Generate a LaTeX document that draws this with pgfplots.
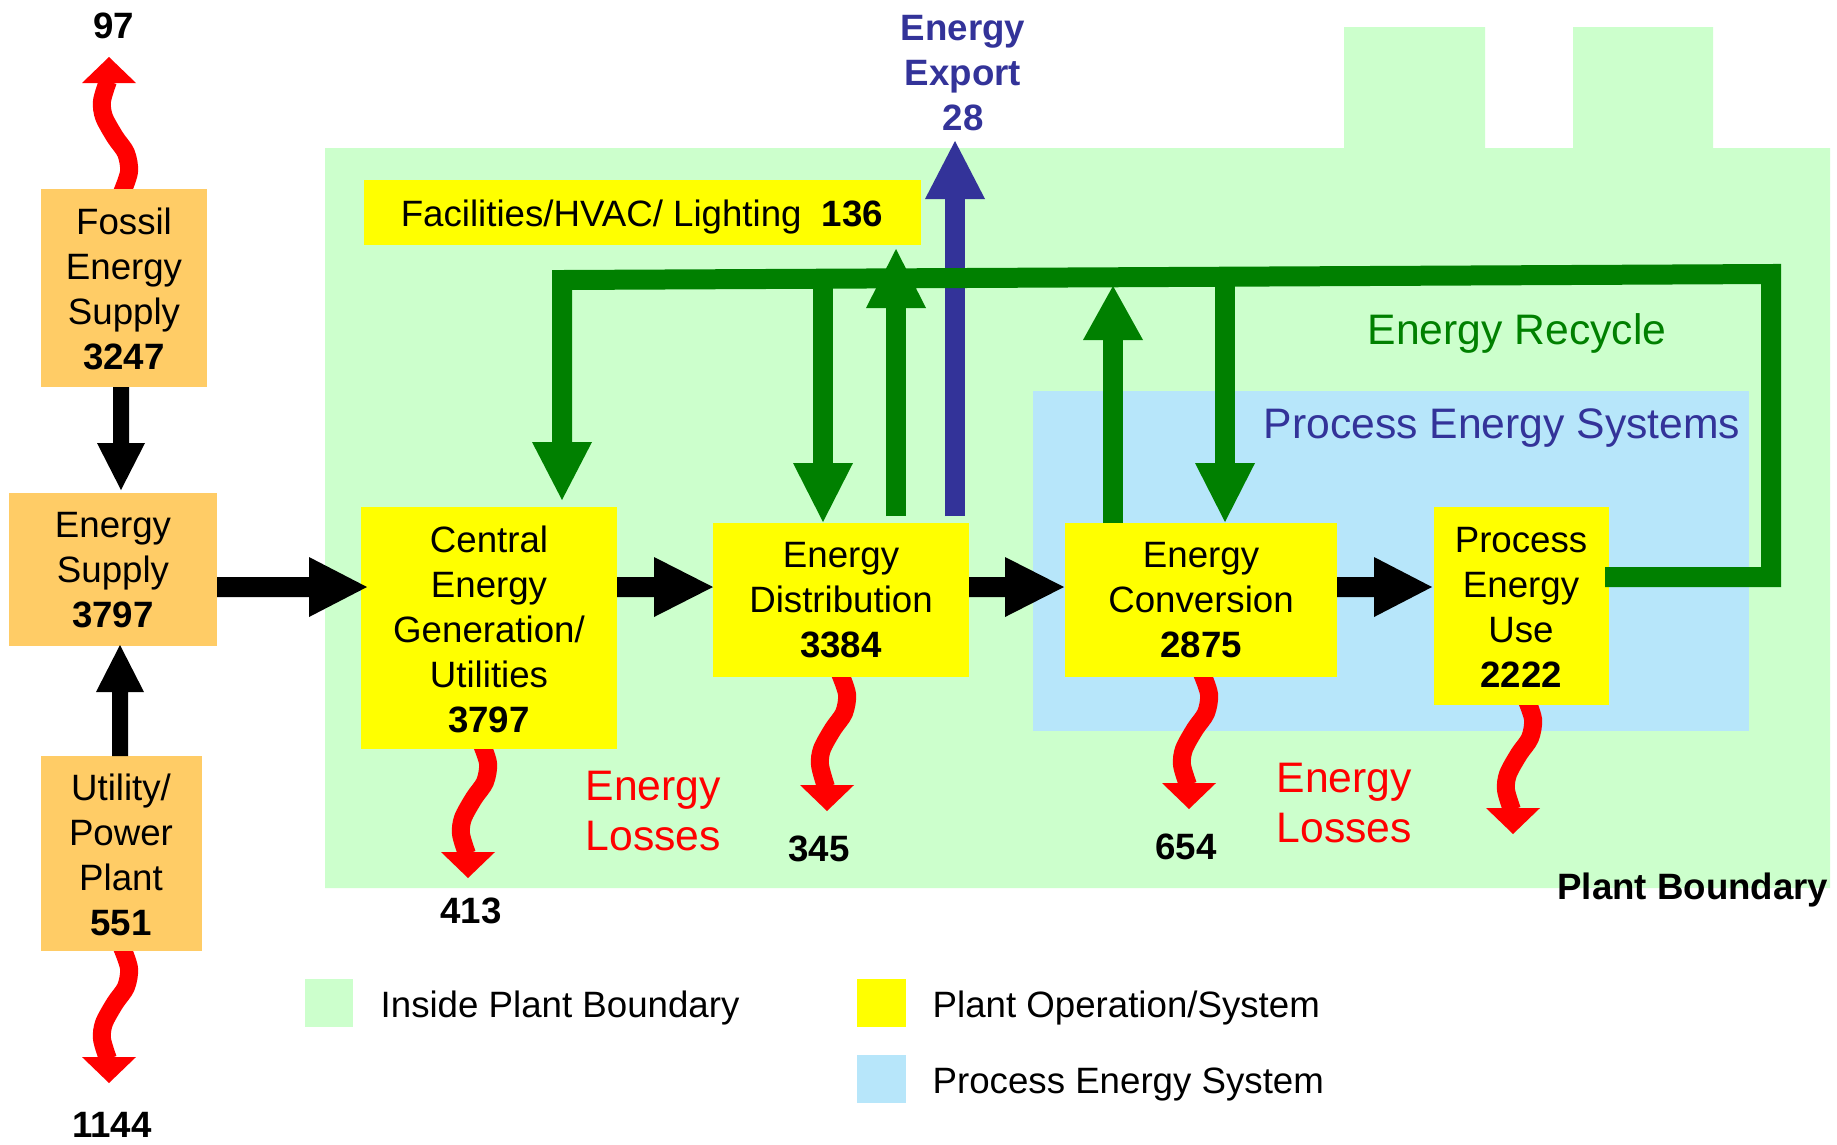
\documentclass[border=0pt]{standalone}
\usepackage{pgfplots}
\pgfplotsset{compat=1.18}
\usepackage{fontspec}
\setmainfont{Liberation Sans}
\definecolor{bgg}{RGB}{204,255,204}
\definecolor{pes}{RGB}{183,230,250}
\definecolor{org}{RGB}{255,204,102}
\definecolor{ylw}{RGB}{255,255,0}
\definecolor{grn}{RGB}{0,128,0}
\definecolor{nvy}{RGB}{51,51,153}
\definecolor{rd}{RGB}{255,0,0}
\tikzset{bx/.style={font=\fontsize{11}{13.5}\selectfont, align=center, inner sep=0pt},
         bxb/.style={font=\bfseries\fontsize{11}{13.5}\selectfont, align=center, inner sep=0pt},
         big/.style={font=\fontsize{12.8}{15}\selectfont, align=left, inner sep=0pt},
         wave/.style={draw=rd, line width=5.4pt, smooth}}
\begin{document}
\begin{tikzpicture}
\begin{axis}[width=551.1pt, height=343.2pt, scale only axis,
  xmin=0, xmax=1837, ymin=0, ymax=1144, y dir=reverse,
  hide axis, clip=false]
% page background
\addplot[fill=white, draw=none] coordinates {(0,0)(1837,0)(1837,1144)(0,1144)} -- cycle;
% plant boundary
\addplot[fill=bgg, draw=none] coordinates {(325,148)(1344,148)(1344,27)(1485,27)(1485,148)(1573,148)(1573,27)(1713,27)(1713,148)(1830,148)(1830,888)(325,888)} -- cycle;
% process energy systems
\addplot[fill=pes, draw=none] coordinates {(1033,391)(1749,391)(1749,731)(1033,731)} -- cycle;
% red loss arrows
\addplot[wave] coordinates {(121,195)(129,172)(126,153)(115,137)(104,117)(102,101)(108,81)};
\addplot[fill=rd, draw=none] coordinates {(82,83)(136,83)(109,57)} -- cycle;
\addplot[wave] coordinates {(121,945)(129,968)(126,987)(115,1003)(104,1023)(102,1039)(108,1059)};
\addplot[fill=rd, draw=none] coordinates {(82,1057)(136,1057)(109,1083)} -- cycle;
\addplot[wave] coordinates {(480,740)(488,763)(485,782)(474,798)(463,818)(461,834)(467,854)};
\addplot[fill=rd, draw=none] coordinates {(441,852)(495,852)(468,878)} -- cycle;
\addplot[wave] coordinates {(839,671)(847,694)(844,713)(833,729)(822,749)(820,765)(826,787)};
\addplot[fill=rd, draw=none] coordinates {(800,785)(854,785)(827,811)} -- cycle;
\addplot[wave] coordinates {(1201,671)(1209,694)(1206,713)(1195,729)(1184,749)(1182,765)(1188,785)};
\addplot[fill=rd, draw=none] coordinates {(1162,783)(1216,783)(1189,809)} -- cycle;
\addplot[wave] coordinates {(1525,696)(1533,719)(1530,738)(1519,754)(1508,774)(1506,790)(1512,810)};
\addplot[fill=rd, draw=none] coordinates {(1486,808)(1540,808)(1513,834)} -- cycle;
% orange boxes
\addplot[fill=org, draw=none] coordinates {(41,189)(207,189)(207,387)(41,387)} -- cycle;
\addplot[fill=org, draw=none] coordinates {(9,493)(217,493)(217,646)(9,646)} -- cycle;
\addplot[fill=org, draw=none] coordinates {(41,756)(202,756)(202,951)(41,951)} -- cycle;
% yellow boxes
\addplot[fill=ylw, draw=none] coordinates {(364,180)(921,180)(921,245)(364,245)} -- cycle;
\addplot[fill=ylw, draw=none] coordinates {(361,507)(617,507)(617,749)(361,749)} -- cycle;
\addplot[fill=ylw, draw=none] coordinates {(713,523)(969,523)(969,677)(713,677)} -- cycle;
\addplot[fill=ylw, draw=none] coordinates {(1065,523)(1337,523)(1337,677)(1065,677)} -- cycle;
\addplot[fill=ylw, draw=none] coordinates {(1434,507)(1609,507)(1609,705)(1434,705)} -- cycle;
% black arrows
\addplot[fill=black, draw=none] coordinates {(217,577)(309,577)(309,557)(367,587)(309,617)(309,597)(217,597)} -- cycle;
\addplot[fill=black, draw=none] coordinates {(617,577)(654,577)(654,557)(713,587)(654,617)(654,597)(617,597)} -- cycle;
\addplot[fill=black, draw=none] coordinates {(969,577)(1005,577)(1005,557)(1064,587)(1005,617)(1005,597)(969,597)} -- cycle;
\addplot[fill=black, draw=none] coordinates {(1337,577)(1374,577)(1374,557)(1432,587)(1374,617)(1374,597)(1337,597)} -- cycle;
\addplot[fill=black, draw=none] coordinates {(113,387)(129,387)(129,443)(145,443)(121,490)(97,443)(113,443)} -- cycle;
\addplot[fill=black, draw=none] coordinates {(112,756)(128,756)(128,692)(144,692)(120,645)(96,692)(112,692)} -- cycle;
% export arrow
\addplot[draw=nvy, line width=6pt] coordinates {(955,516)(955,197)};
\addplot[fill=nvy, draw=none] coordinates {(925,199)(985,199)(955,141)} -- cycle;
% green recycle arrows
\addplot[draw=grn, line width=6pt, line join=miter] coordinates {(1605,577)(1771,577)(1771,274)(562,280)(562,445)};
\addplot[fill=grn, draw=none] coordinates {(532,442)(592,442)(562,500)} -- cycle;
\addplot[draw=grn, line width=6pt] coordinates {(823,280)(823,465)};
\addplot[fill=grn, draw=none] coordinates {(793,463)(853,463)(823,522)} -- cycle;
\addplot[draw=grn, line width=6pt] coordinates {(896,516)(896,306)};
\addplot[fill=grn, draw=none] coordinates {(866,308)(926,308)(896,249)} -- cycle;
\addplot[draw=grn, line width=6pt] coordinates {(1113,523)(1113,338)};
\addplot[fill=grn, draw=none] coordinates {(1083,340)(1143,340)(1113,286)} -- cycle;
\addplot[draw=grn, line width=6pt] coordinates {(1225,274)(1225,465)};
\addplot[fill=grn, draw=none] coordinates {(1195,463)(1255,463)(1225,522)} -- cycle;
% legend squares
\addplot[fill=bgg, draw=none] coordinates {(305,979)(353,979)(353,1027)(305,1027)} -- cycle;
\addplot[fill=ylw, draw=none] coordinates {(857,979)(906,979)(906,1027)(857,1027)} -- cycle;
\addplot[fill=pes, draw=none] coordinates {(857,1055)(906,1055)(906,1103)(857,1103)} -- cycle;
% texts
\node[bxb] at (axis cs:114,26) {97};
\node[bx] at (axis cs:124,289) {Fossil\\Energy\\Supply\\\textbf{3247}};
\node[bx] at (axis cs:113,570) {Energy\\Supply\\\textbf{3797}};
\node[bx] at (axis cs:121,855) {Utility/\\Power\\Plant\\\textbf{551}};
\node[bxb] at (axis cs:112,1125) {1144};
\node[bx] at (axis cs:489,629) {Central\\Energy\\Generation/\\Utilities\\\textbf{3797}};
\node[bx] at (axis cs:841,600) {Energy\\Distribution\\\textbf{3384}};
\node[bx] at (axis cs:1201,600) {Energy\\Conversion\\\textbf{2875}};
\node[bx] at (axis cs:1521,607) {Process\\Energy\\Use\\\textbf{2222}};
\node[bx] at (axis cs:642,217) {Facilities/HVAC/ Lighting\ \ \textbf{136}};
\node[bxb, text=nvy] at (axis cs:963,73) {Energy\\Export\\28};
\node[bxb] at (axis cs:471,911) {413};
\node[bxb] at (axis cs:819,849) {345};
\node[bxb] at (axis cs:1186,847) {654};
\node[big, text=grn] at (axis cs:1517,333) {Energy Recycle};
\node[big, text=nvy] at (axis cs:1502,428) {Process Energy Systems};
\node[big, text=rd, anchor=west] at (axis cs:585,811) {Energy\\Losses};
\node[big, text=rd, anchor=west] at (axis cs:1276,803) {Energy\\Losses};
\node[bxb, anchor=east] at (axis cs:1829,890) {Plant Boundary};
\node[bx, anchor=west] at (axis cs:380,1008) {Inside Plant Boundary};
\node[bx, anchor=west] at (axis cs:932,1008) {Plant Operation/System};
\node[bx, anchor=west] at (axis cs:932,1084) {Process Energy System};
\end{axis}
\end{tikzpicture}
\end{document}
